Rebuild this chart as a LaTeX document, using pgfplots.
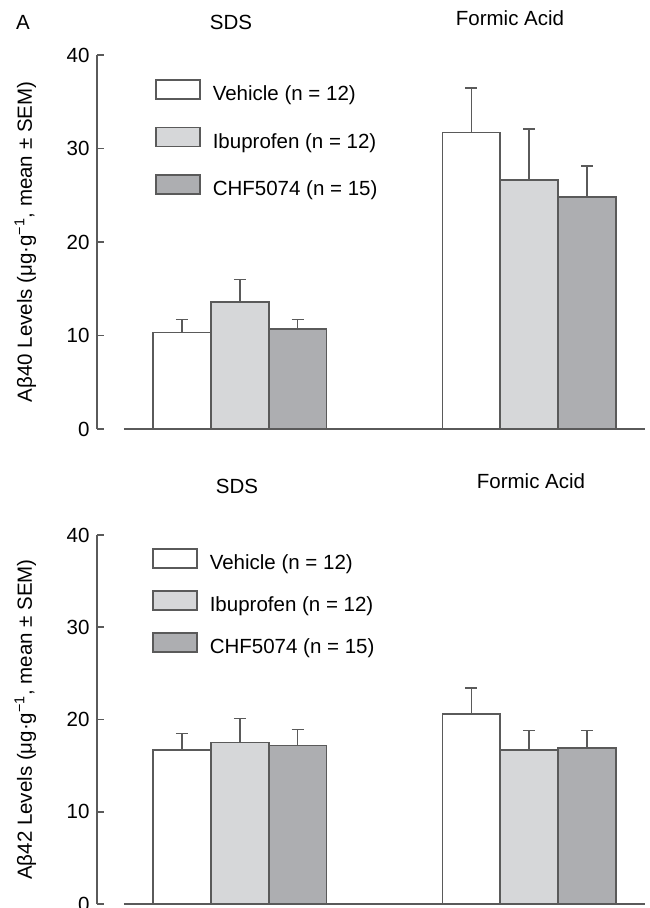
\documentclass[border=0pt]{standalone}
\usepackage{pgfplots}
\pgfplotsset{compat=1.18}
\usepackage{fontspec}
\setmainfont{Liberation Sans}

\definecolor{edge}{HTML}{5A5A5A}
\definecolor{ibu}{HTML}{D6D7D9}
\definecolor{chf}{HTML}{ADAEB1}

\newcommand{\bigfont}{\fontsize{20.5}{24}\selectfont}

\pgfplotsset{
  ybar legend/.style={legend image code/.code={%
    \draw[##1, line width=1.6pt, draw=edge] (0pt,-5pt) rectangle (44pt,14pt);}},
  panel/.style={
    scale only axis, width=548pt,
    xmin=-0.466, xmax=9, ymin=0, ymax=40,
    axis x line=none, axis y line*=left,
    ytick={0,10,20,30,40}, xtick=\empty,
    tick align=inside, major tick length=7pt,
    axis line style={edge, line width=1.6pt},
    every tick/.style={edge, line width=1.6pt},
    tick label style={font=\bigfont},
    yticklabel style={xshift=-4pt},
    /pgf/number format/assume math mode=true,
    label style={font=\bigfont},
    ylabel style={at={(axis description cs:-0.131,0.5)}, anchor=center},
    ybar=0pt, bar width=1, bar shift=0pt,
    clip=false,
    every axis plot/.append style={draw=edge, line width=1.6pt},
    error bars/y dir=plus, error bars/y explicit,
    error bars/error mark=|,
    error bars/error bar style={edge, line width=1.6pt},
    error bars/error mark options={edge, line width=1.6pt, mark size=6pt},
    legend cell align=left,
  },
}

\begin{document}
\begin{tikzpicture}
\useasboundingbox (0,0) rectangle (649pt,908pt);

% top panel: Abeta40
\begin{axis}[panel, at={(97pt,479pt)}, anchor=south west, height=374pt,
  ylabel={Aβ40 Levels (μg·g\textsuperscript{−1}, mean ± SEM)},
  legend style={draw=none, fill=none, inner sep=0pt, font=\bigfont,
    at={(axis description cs:0,1)}, anchor=north west, xshift=58pt, yshift=-24pt,
    row sep=22.5pt, column sep=10pt}]
\addplot[fill=white] coordinates {(1,10.3) +- (0,1.4) (6,31.7) +- (0,4.8)};
\addlegendentry{Vehicle (n = 12)}
\addplot[fill=ibu] coordinates {(2,13.6) +- (0,2.4) (7,26.6) +- (0,5.5)};
\addlegendentry{Ibuprofen (n = 12)}
\addplot[fill=chf] coordinates {(3,10.7) +- (0,1.0) (8,24.8) +- (0,3.3)};
\addlegendentry{CHF5074 (n = 15)}
\draw[edge, line width=1.6pt] (axis cs:0,0) -- (axis cs:9,0);
\end{axis}

% bottom panel: Abeta42
\begin{axis}[panel, at={(97pt,4pt)}, anchor=south west, height=369pt,
  ylabel={Aβ42 Levels (μg·g\textsuperscript{−1}, mean ± SEM)},
  legend style={draw=none, fill=none, inner sep=0pt, font=\bigfont,
    at={(axis description cs:0,1)}, anchor=north west, xshift=55pt, yshift=-13pt,
    row sep=17pt, column sep=10pt}]
\addplot[fill=white] coordinates {(1,16.7) +- (0,1.8) (6,20.6) +- (0,2.8)};
\addlegendentry{Vehicle (n = 12)}
\addplot[fill=ibu] coordinates {(2,17.5) +- (0,2.6) (7,16.7) +- (0,2.1)};
\addlegendentry{Ibuprofen (n = 12)}
\addplot[fill=chf] coordinates {(3,17.2) +- (0,1.7) (8,16.9) +- (0,1.9)};
\addlegendentry{CHF5074 (n = 15)}
\draw[edge, line width=1.6pt] (axis cs:0,0) -- (axis cs:9,0);
\end{axis}

\node[font=\bigfont] at (23pt,886pt) {A};
\node[font=\bigfont] at (231pt,886pt) {SDS};
\node[font=\bigfont] at (510pt,890pt) {Formic Acid};
\node[font=\bigfont] at (237pt,422pt) {SDS};
\node[font=\bigfont] at (531pt,427pt) {Formic Acid};
\end{tikzpicture}
\end{document}
